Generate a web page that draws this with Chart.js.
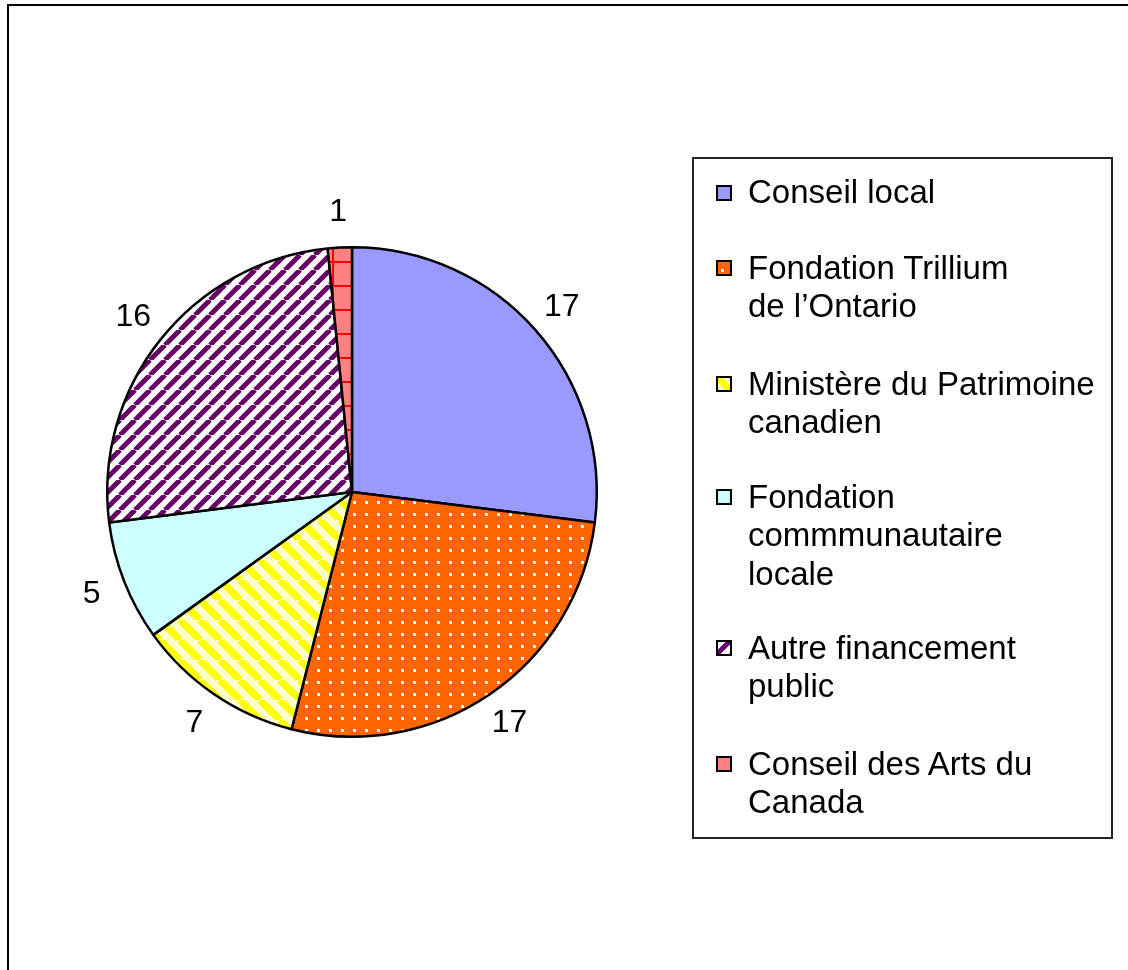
<!DOCTYPE html>
<html><head><meta charset="utf-8">
<script src="https://cdn.jsdelivr.net/npm/chart.js@4"></script>
<style>
html,body{margin:0;padding:0;background:#fff;}
#wrap{position:relative;width:1128px;height:970px;overflow:hidden;font-family:"Liberation Sans",Arial,sans-serif;color:#000;}
#frame{position:absolute;left:7px;top:4px;width:1300px;height:1100px;border-left:2px solid #000;border-top:2px solid #000;}
#c{position:absolute;left:0;top:0;}
#legend{position:absolute;left:692px;top:157px;width:417px;height:678px;border:2px solid #222;}
.item{position:absolute;left:54px;font-size:33px;line-height:38.5px;white-space:nowrap;}
.mk{position:absolute;left:22px;width:16px;height:16px;}
</style></head>
<body><div id="wrap"><div id="frame"></div><canvas id="c" width="1128" height="970"></canvas><div id="legend"></div></div>
<script>
const categories = ["Conseil local", "Fondation Trillium de l’Ontario", "Ministère du Patrimoine canadien", "Fondation commmunautaire locale", "Autre financement public", "Conseil des Arts du Canada"];
const legendLines = [["Conseil local"], ["Fondation Trillium", "de l’Ontario"], ["Ministère du Patrimoine", "canadien"], ["Fondation", "commmunautaire", "locale"], ["Autre financement", "public"], ["Conseil des Arts du", "Canada"]];
const values = [17, 17, 7, 5, 16, 1];
const legendCapCenters = [192.5, 268, 384, 497, 648, 764];

function tile(size, draw){ const c=document.createElement('canvas'); c.width=size; c.height=size; draw(c.getContext('2d'), size); return c; }
const tiles = [
  tile(8,(g,s)=>{g.fillStyle='#9999FF';g.fillRect(0,0,s,s);}),
  tile(12,(g,s)=>{g.fillStyle='#FF6600';g.fillRect(0,0,s,s);g.fillStyle='#FFFFFF';g.fillRect(5,9,3,3);}),
  tile(20,(g,s)=>{g.fillStyle='#FFFFCC';g.fillRect(0,0,s,s);g.strokeStyle='#FFFF00';g.lineWidth=7;for(let k=-1;k<=1;k++){g.beginPath();g.moveTo(k*s,0);g.lineTo(k*s+s,s);g.stroke();}}),
  tile(8,(g,s)=>{g.fillStyle='#CCFFFF';g.fillRect(0,0,s,s);}),
  tile(15,(g,s)=>{g.fillStyle='#FFFFFF';g.fillRect(0,0,s,s);g.strokeStyle='#660066';g.lineWidth=5;for(let k=-1;k<=1;k++){g.beginPath();g.moveTo(k*s,s);g.lineTo(k*s+s,0);g.stroke();}}),
  tile(24,(g,s)=>{g.fillStyle='#FF8080';g.fillRect(0,0,s,s);g.fillStyle='#FF0000';g.fillRect(20,0,2,s);g.fillRect(0,21,s,2);})
];
const ctx0 = document.getElementById('c').getContext('2d');
const patterns = tiles.map(t=>ctx0.createPattern(t,'repeat'));

const labelPlugin = {
  id:'outLabels',
  afterDatasetsDraw(chart){
    const ctx=chart.ctx; const meta=chart.getDatasetMeta(0);
    ctx.save(); ctx.font='32px "Liberation Sans", Arial, sans-serif'; ctx.fillStyle='#000'; ctx.textAlign='center'; ctx.textBaseline='middle';
    meta.data.forEach((arc,i)=>{
      const p=arc.getProps(['x','y','startAngle','endAngle','outerRadius'],true);
      const mid=(p.startAngle+p.endAngle)/2; const r=p.outerRadius+35;
      ctx.fillText(String(values[i]), p.x+Math.cos(mid)*r, p.y+Math.sin(mid)*r);
    });
    ctx.restore();
  }
};

new Chart(document.getElementById('c'), {
  type:'pie',
  data:{labels:categories, datasets:[{data:values, backgroundColor:patterns, borderColor:'#000', borderWidth:2.5}]},
  options:{responsive:false, animation:false, events:[], layout:{padding:{left:106,right:530,top:246,bottom:232}},
    plugins:{legend:{display:false}, tooltip:{enabled:false}}},
  plugins:[labelPlugin]
});

const leg=document.getElementById('legend');
legendLines.forEach((lines,i)=>{
  const top=legendCapCenters[i]-157-2-19.5;
  const d=document.createElement('div'); d.className='item'; d.style.top=top+'px'; d.innerHTML=lines.join('<br>'); leg.appendChild(d);
  const m=document.createElement('canvas'); m.className='mk'; m.width=16; m.height=16; m.style.top=(legendCapCenters[i]-157-2-8)+'px';
  const g=m.getContext('2d'); g.fillStyle=g.createPattern(tiles[i],'repeat'); g.fillRect(0,0,16,16); g.strokeStyle='#000'; g.lineWidth=2; g.strokeRect(1,1,14,14);
  leg.appendChild(m);
});
</script></body></html>
